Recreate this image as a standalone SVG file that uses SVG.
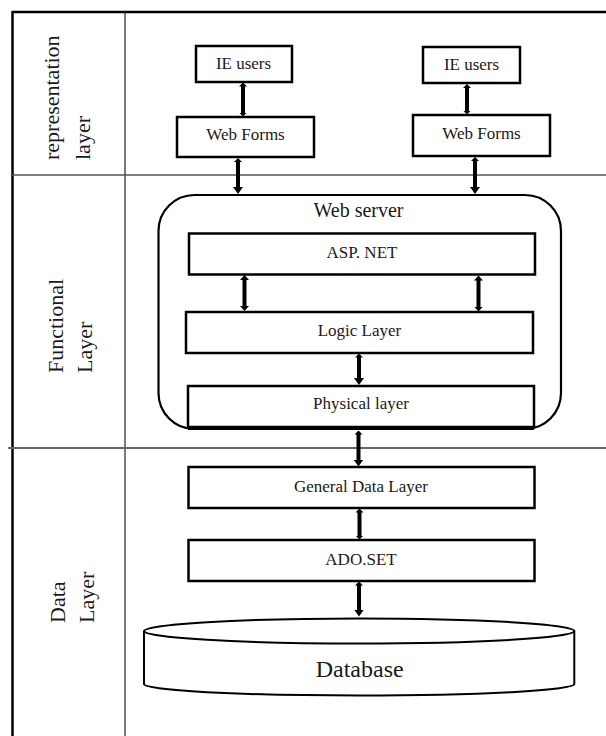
<svg xmlns="http://www.w3.org/2000/svg" width="606" height="736" viewBox="0 0 606 736" font-family="'Liberation Serif', 'Times New Roman', 'DejaVu Serif', serif">
<style>
.box{fill:#fff;stroke:#000;stroke-width:2.5}
.t{font-family:'Liberation Serif','Times New Roman','DejaVu Serif',serif;font-size:17px;fill:#1a1a1a;text-anchor:middle}
.side{font-family:'Liberation Serif','Times New Roman','DejaVu Serif',serif;font-size:22px;fill:#1a1a1a}
.arr{stroke:#000;stroke-width:4;fill:none}
</style>
<defs>
<marker id="hs" viewBox="0 -4 4 8" refX="0.5" refY="0" markerWidth="4" markerHeight="8" markerUnits="userSpaceOnUse" orient="auto-start-reverse"><path d="M0,-4 L4,0 L0,4 z" fill="#000"/></marker>
<marker id="hm" viewBox="0 -4.5 5 9" refX="0.5" refY="0" markerWidth="5" markerHeight="9" markerUnits="userSpaceOnUse" orient="auto-start-reverse"><path d="M0,-4.5 L5,0 L0,4.5 z" fill="#000"/></marker>
<marker id="hb" viewBox="0 -5 7 10" refX="0.5" refY="0" markerWidth="7" markerHeight="10" markerUnits="userSpaceOnUse" orient="auto-start-reverse"><path d="M0,-5 L7,0 L0,5 z" fill="#000"/></marker>
</defs>
<rect width="606" height="736" fill="#fff"/>
<g id="grid">
<line x1="12" y1="12" x2="606" y2="12" stroke="#000" stroke-width="2.5"/>
<line x1="12.5" y1="11" x2="12.5" y2="736" stroke="#000" stroke-width="2.5"/>
<line x1="125" y1="12" x2="125" y2="736" stroke="#333" stroke-width="1.3"/>
<line x1="12" y1="175" x2="606" y2="175" stroke="#555" stroke-width="1.5"/>
<line x1="8" y1="448" x2="606" y2="448" stroke="#666" stroke-width="2"/>
</g>
<g id="labels">
<text class="side" transform="translate(59,160) rotate(-90)">representation</text>
<text class="side" transform="translate(90,160) rotate(-90)">layer</text>
<text class="side" transform="translate(63.3,373) rotate(-90)">Functional</text>
<text class="side" transform="translate(92,373) rotate(-90)">Layer</text>
<text class="side" transform="translate(64.6,623) rotate(-90)">Data</text>
<text class="side" transform="translate(93.5,623) rotate(-90)">Layer</text>
</g>
<g id="ie-users-1"><rect class="box" x="196" y="46" width="96" height="36"/><text class="t" x="243.5" y="69">IE users</text></g>
<g id="ie-users-2"><rect class="box" x="423" y="47" width="97" height="36"/><text class="t" x="471.5" y="70">IE users</text></g>
<g id="web-forms-1"><rect class="box" x="177" y="117" width="137" height="40"/><text class="t" x="245.5" y="140">Web Forms</text></g>
<g id="web-forms-2"><rect class="box" x="413" y="115" width="137" height="41"/><text class="t" x="481.5" y="138.5">Web Forms</text></g>
<g id="web-server"><rect x="158.5" y="195" width="402.5" height="234" rx="36" ry="36" fill="#fff" stroke="#000" stroke-width="2.2"/><text class="t" x="358.5" y="217" style="font-size:20px">Web server</text></g>
<g id="asp-net"><rect class="box" x="189" y="233.5" width="346" height="41"/><text class="t" x="362" y="257.5">ASP. NET</text></g>
<g id="logic-layer"><rect class="box" x="186" y="312" width="347" height="41"/><text class="t" x="359.5" y="336">Logic Layer</text></g>
<g id="physical-layer"><rect class="box" x="188" y="386" width="346" height="41"/><line x1="188" y1="428" x2="534" y2="428" stroke="#000" stroke-width="4"/><text class="t" x="361" y="408.5">Physical layer</text></g>
<g id="general-data-layer"><rect class="box" x="188.5" y="467" width="346" height="41"/><text class="t" x="361" y="492">General Data Layer</text></g>
<g id="ado-set"><rect class="box" x="188.5" y="540" width="346" height="41"/><text class="t" x="361" y="565">ADO.SET</text></g>
<g id="database">
<path d="M144,631 L144,684 A215,11.5 0 0 0 574.3,684 L574.3,631" fill="#fff" stroke="#000" stroke-width="2"/>
<ellipse cx="359.2" cy="631" rx="215.1" ry="12.5" fill="#fff" stroke="#000" stroke-width="2"/>
<text class="t" x="359.7" y="677" style="font-size:24px">Database</text>
</g>
<g id="connectors">
<line class="arr" x1="243" y1="86" x2="243" y2="113" marker-start="url(#hs)" marker-end="url(#hs)"/>
<line class="arr" x1="467" y1="87.5" x2="467" y2="111" marker-start="url(#hs)" marker-end="url(#hs)"/>
<line class="arr" x1="238" y1="161.5" x2="238" y2="187.5" marker-start="url(#hs)" marker-end="url(#hb)"/>
<line class="arr" x1="475" y1="160.5" x2="475" y2="187.5" marker-start="url(#hs)" marker-end="url(#hb)"/>
<line class="arr" x1="244.5" y1="279.5" x2="244.5" y2="306.5" marker-start="url(#hm)" marker-end="url(#hm)"/>
<line class="arr" x1="478.5" y1="280" x2="478.5" y2="307" marker-start="url(#hm)" marker-end="url(#hm)"/>
<line class="arr" x1="359" y1="357" x2="359" y2="378.5" marker-start="url(#hs)" marker-end="url(#hb)"/>
<line class="arr" x1="358.5" y1="434" x2="358.5" y2="460" marker-start="url(#hs)" marker-end="url(#hb)"/>
<line class="arr" x1="359.5" y1="512" x2="359.5" y2="536" marker-start="url(#hs)" marker-end="url(#hs)"/>
<line class="arr" x1="359" y1="585" x2="359" y2="610" marker-start="url(#hs)" marker-end="url(#hb)"/>
</g>
</svg>
